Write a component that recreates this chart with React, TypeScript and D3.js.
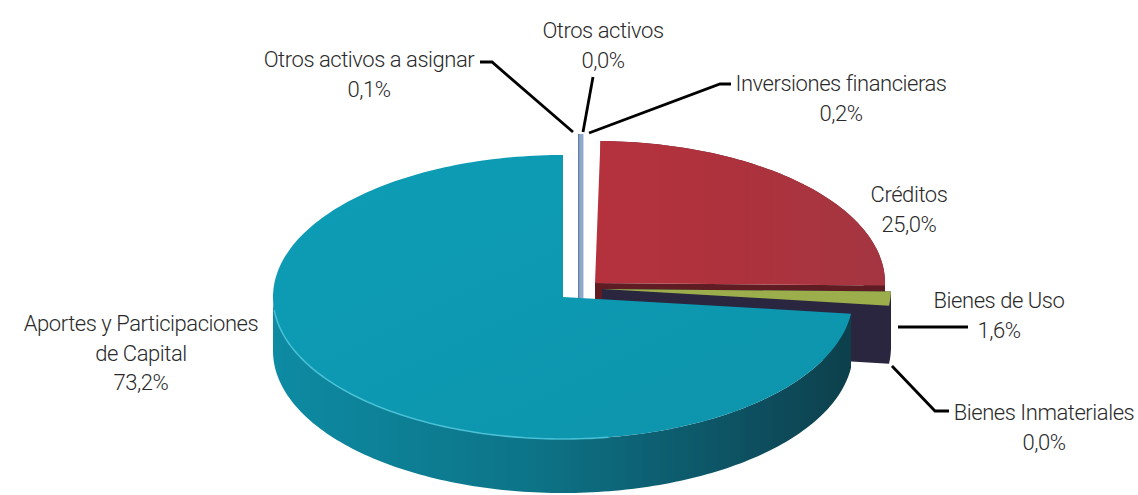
import React from "react";
import * as d3 from "d3";

// ---- data (clockwise from 12 o'clock)
const categories = [
  "Otros activos a asignar",
  "Otros activos",
  "Inversiones financieras",
  "Créditos",
  "Bienes de Uso",
  "Bienes Inmateriales",
  "Aportes y Participaciones de Capital",
];
const values = [0.1, 0.0, 0.2, 25.0, 1.6, 0.0, 73.2];
const valueLabels = ["0,1%", "0,0%", "0,2%", "25,0%", "1,6%", "0,0%", "73,2%"];

// ---- presentation
const topFills = ["#5f7fa8", "#5f7fa8", "#8fa9c9", "url(#redTop)", "#9bae4c", "#2a2540", "url(#tealTop)"];
const wallFills = ["#4a6488", "#4a6488", "#6d88a8", "#5e1c24", "#2a2540", "#2a2540", "url(#tealWall)"];
const centers: [number, number][] = [
  [578, 276], [578, 276], [578, 276], [595, 283], [602, 289], [602, 289], [563, 297],
];
const radiiX = [288, 288, 288, 290, 289, 289, 290];
const radiiY = [142, 142, 142, 142, 142, 142, 142];
const depths = [0, 0, 0, 56, 58, 58, 54];
const sliverBase = 298;

const labelLines: { lines: string[]; x: number; y: number }[] = [
  { lines: ["Otros activos a asignar", valueLabels[0]], x: 369, y: 67 },
  { lines: ["Otros activos", valueLabels[1]], x: 603, y: 38 },
  { lines: ["Inversiones financieras", valueLabels[2]], x: 841, y: 91 },
  { lines: ["Créditos", valueLabels[3]], x: 909, y: 202 },
  { lines: ["Bienes de Uso", valueLabels[4]], x: 999, y: 308 },
  { lines: ["Bienes Inmateriales", valueLabels[5]], x: 1044, y: 420 },
  { lines: ["Aportes y Participaciones", "de Capital", valueLabels[6]], x: 141, y: 331 },
];
const leaders: [number, number][][] = [
  [[480, 62], [492, 62], [573, 132]],
  [[593, 77], [583, 132]],
  [[731, 84], [720, 84], [589, 133]],
  [[968, 327], [898, 327]],
  [[949, 411], [935, 411], [892, 366]],
];

const pieAngles = d3
  .pie<number>()
  .sort(null)
  .value((d) => d)(values);

const rim = (i: number, a: number, dy = 0): [number, number] => [
  centers[i][0] + radiiX[i] * Math.sin(a),
  centers[i][1] - radiiY[i] * Math.cos(a) + dy,
];
const line = d3.line<[number, number]>();

const sampleAngles = (a0: number, a1: number) => {
  const n = Math.max(2, Math.ceil((a1 - a0) / 0.02));
  const s = d3.scaleLinear().domain([0, n]).range([a0, a1]);
  return d3.range(n + 1).map((k) => s(k));
};

const topPath = (i: number) => {
  const { startAngle, endAngle } = pieAngles[i];
  return line([centers[i], ...sampleAngles(startAngle, endAngle).map((a) => rim(i, a))]) + "Z";
};

// the thin top slices read as a strip of constant width down to the cut
const stripPath = (i: number) => {
  const { startAngle, endAngle } = pieAngles[i];
  const s = sampleAngles(startAngle, endAngle).map((a) => rim(i, a));
  const first = s[0];
  const last = s[s.length - 1];
  return line([...s, [last[0], sliverBase], [first[0], sliverBase]]) + "Z";
};

const wallPath = (i: number) => {
  const { startAngle, endAngle } = pieAngles[i];
  const a1 = Math.min(endAngle, Math.PI * 1.5);
  const s = sampleAngles(startAngle, a1);
  const d = depths[i];
  return line([...s.map((a) => rim(i, a)), ...s.map((a) => rim(i, a, d)).reverse()]) + "Z";
};

const cutPath = (i: number, a: number) => {
  const d = depths[i];
  const p = rim(i, a);
  const c = centers[i];
  return line([c, p, [p[0], p[1] + d], [c[0], c[1] + d]]) + "Z";
};

export default function App() {
  const tealRim = sampleAngles(Math.PI * 0.95, Math.PI * 1.47).map((a) => rim(6, a));
  return (
    <svg
      width={1138}
      height={495}
      style={{ position: "absolute", left: 0, top: 0, background: "#fff" }}
      fontFamily="Roboto"
      fontWeight={300}
    >
      <defs>
        <linearGradient id="tealTop" x1="0" y1="0" x2="1" y2="1">
          <stop offset="0" stopColor="#0b9db6" />
          <stop offset="1" stopColor="#0c94ac" />
        </linearGradient>
        <linearGradient id="redTop" x1="0" y1="0" x2="1" y2="0">
          <stop offset="0" stopColor="#b5313c" />
          <stop offset="1" stopColor="#a43540" />
        </linearGradient>
        <linearGradient id="tealWall" gradientUnits="userSpaceOnUse" x1="273" y1="0" x2="853" y2="0">
          <stop offset="0" stopColor="#0f8ba3" />
          <stop offset="0.45" stopColor="#0b7387" />
          <stop offset="0.75" stopColor="#0a5768" />
          <stop offset="1" stopColor="#0f3f4c" />
        </linearGradient>
        <filter id="soft" x="-5%" y="-5%" width="110%" height="110%">
          <feGaussianBlur stdDeviation="0.7" />
        </filter>
      </defs>
      <g filter="url(#soft)">
        {[0, 1, 2].map((i) =>
          values[i] > 0 ? <path key={categories[i]} d={stripPath(i)} fill={topFills[i]} /> : null
        )}
        {[3, 4, 6].map((i) => (
          <g key={categories[i]}>
            {i === 4 && <path d={cutPath(i, pieAngles[i].startAngle)} fill={wallFills[i]} />}
            {i !== 6 && <path d={cutPath(i, pieAngles[i].endAngle)} fill={wallFills[i]} />}
            <path d={wallPath(i)} fill={wallFills[i]} />
            <path d={topPath(i)} fill={topFills[i]} />
          </g>
        ))}
        <path d={line(tealRim) ?? ""} fill="none" stroke="#4fc6da" strokeWidth={1.6} opacity={0.85} />
      </g>
      {leaders.map((pts, i) => (
        <path key={i} d={line(pts) ?? ""} fill="none" stroke="#000" strokeWidth={2.8} />
      ))}
      {labelLines.map((l, i) => (
        <text key={categories[i]} textAnchor="middle" fontSize={22} letterSpacing={-0.45} fill="#2a2a2a">
          {l.lines.map((t, k) => (
            <tspan key={k} x={l.x} y={l.y + k * 29.5}>
              {t}
            </tspan>
          ))}
        </text>
      ))}
    </svg>
  );
}
